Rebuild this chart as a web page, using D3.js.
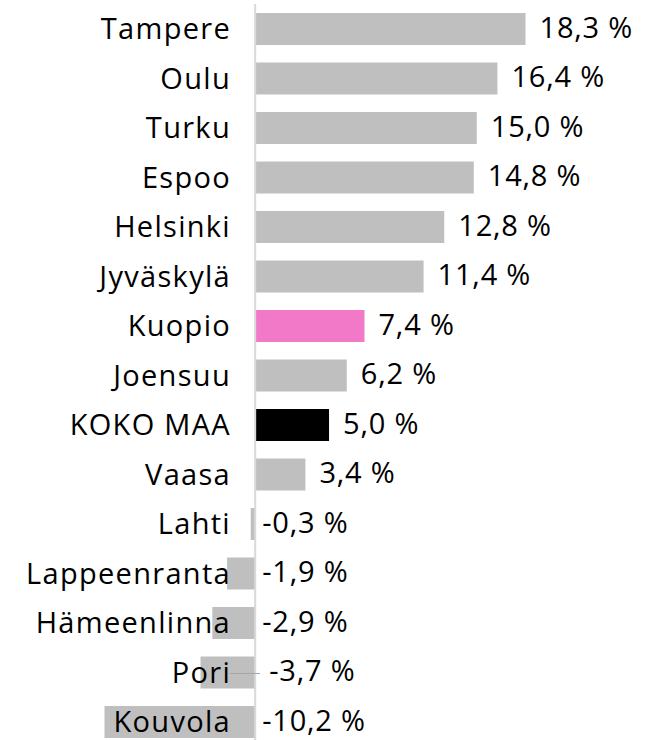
<!DOCTYPE html>
<html>
<head>
<meta charset="utf-8">
<script src="https://cdn.jsdelivr.net/npm/d3@7"></script>
<style>
  body { margin: 0; background: #fff; }
  text { font-family: "Open Sans", "DejaVu Sans", sans-serif; fill: #000; }
</style>
</head>
<body>
<div id="chart"></div>
<script>
// data
var cities = ['Tampere', 'Oulu', 'Turku', 'Espoo', 'Helsinki', 'Jyväskylä', 'Kuopio', 'Joensuu',
              'KOKO MAA', 'Vaasa', 'Lahti', 'Lappeenranta', 'Hämeenlinna', 'Pori', 'Kouvola'];
var growth = [18.3, 16.4, 15.0, 14.8, 12.8, 11.4, 7.4, 6.2, 5.0, 3.4, -0.3, -1.9, -2.9, -3.7, -10.2];
var highlight = {'Kuopio': '#f279c7', 'KOKO MAA': '#000000'};

var width = 646, height = 740;

var rows = cities.map(function (c, i) { return {city: c, value: growth[i]}; });

var x = d3.scaleLinear().domain([-10.2, 18.3]).range([104.5, 525.5]);
var y = d3.scaleBand().domain(cities).range([13, 738]).paddingInner(0.3535).paddingOuter(0);

var svg = d3.select('#chart').append('svg')
    .attr('width', width)
    .attr('height', height);

svg.selectAll('rect.bar')
    .data(rows)
    .enter().append('rect')
    .attr('class', 'bar')
    .attr('x', function (d) { return x(Math.min(0, d.value)); })
    .attr('y', function (d) { return y(d.city); })
    .attr('width', function (d) { return Math.abs(x(d.value) - x(0)); })
    .attr('height', y.bandwidth())
    .attr('fill', function (d) { return highlight[d.city] || '#bfbfbf'; });

// zero line
svg.append('line')
    .attr('x1', x(0)).attr('x2', x(0))
    .attr('y1', 4).attr('y2', height)
    .attr('stroke', '#d9d9d9')
    .attr('stroke-width', 2);

// city names
svg.selectAll('text.city')
    .data(rows)
    .enter().append('text')
    .attr('class', 'city')
    .attr('x', 231)
    .attr('y', function (d) { return y(d.city) + y.bandwidth() / 2; })
    .attr('dy', '0.36em')
    .attr('text-anchor', 'end')
    .style('font-size', '29px')
    .style('letter-spacing', '1.3px')
    .text(function (d) { return d.city; });

// leader line for Pori label
svg.append('line')
    .attr('x1', 230).attr('x2', 260)
    .attr('y1', y('Pori') + y.bandwidth() / 2 + 1)
    .attr('y2', y('Pori') + y.bandwidth() / 2 + 1)
    .attr('stroke', '#a6a6a6')
    .attr('stroke-width', 1);

// value labels
var fmt = function (v) { return v.toFixed(1).replace('.', ',') + ' %'; };
svg.selectAll('text.val')
    .data(rows)
    .enter().append('text')
    .attr('class', 'val')
    .attr('x', function (d) { return d.value > 0 ? x(d.value) + 14 : x(0) + 7 + (d.city === 'Pori' ? 7 : 0); })
    .attr('y', function (d) { return y(d.city) + y.bandwidth() / 2; })
    .attr('dy', '0.3em')
    .style('font-size', '29px')
    .style('letter-spacing', '0.8px')
    .text(function (d) { return fmt(d.value); });
</script>
</body>
</html>
